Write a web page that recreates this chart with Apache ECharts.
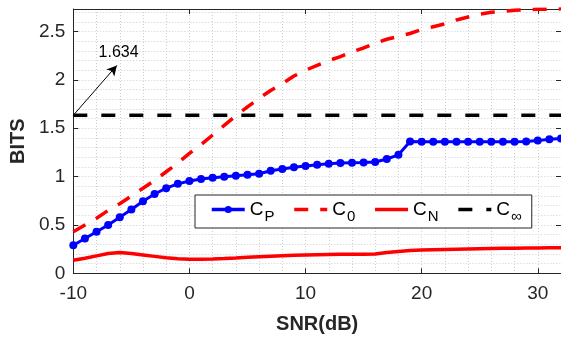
<!DOCTYPE html>
<html><head><meta charset="utf-8">
<script src="https://cdn.jsdelivr.net/npm/echarts@6/dist/echarts.min.js"></script>
<style>html,body{margin:0;padding:0;background:#fff}#c{width:561px;height:341px}</style>
</head><body><div id="c"></div>
<script>
const snr = [-10,-9,-8,-7,-6,-5,-4,-3,-2,-1,0,1,2,3,4,5,6,7,8,9,10,11,12,13,14,15,16,17,18,19,20,21,22,23,24,25,26,27,28,29,30,31,32];
const cP = [0.29,0.36,0.43,0.50,0.58,0.66,0.745,0.82,0.88,0.925,0.955,0.975,0.989,0.999,1.009,1.020,1.030,1.061,1.079,1.096,1.110,1.123,1.133,1.141,1.144,1.146,1.151,1.182,1.225,1.362,1.360,1.360,1.360,1.360,1.360,1.360,1.360,1.360,1.360,1.362,1.372,1.385,1.395];
const c0 = [0.43,0.50,0.57,0.65,0.72,0.80,0.88,0.96,1.05,1.14,1.24,1.33,1.43,1.53,1.63,1.72,1.81,1.89,1.96,2.04,2.10,2.15,2.20,2.24,2.29,2.33,2.38,2.42,2.45,2.48,2.52,2.55,2.58,2.62,2.65,2.68,2.70,2.71,2.72,2.725,2.73,2.73,2.735];
const cN = [0.135,0.155,0.18,0.205,0.215,0.205,0.19,0.175,0.16,0.15,0.145,0.145,0.148,0.152,0.158,0.165,0.172,0.177,0.182,0.186,0.19,0.193,0.195,0.196,0.197,0.198,0.20,0.215,0.225,0.235,0.24,0.243,0.246,0.249,0.252,0.254,0.256,0.258,0.26,0.261,0.262,0.264,0.265];
const cInfValue = 1.634;
const cInfX = [-10, 32];
const xTicks = [-10, 0, 10, 20, 30];
const yTicks = [0, 0.5, 1, 1.5, 2, 2.5];
const seriesNames = ['CP', 'C0', 'CN', 'Cinf'];
const seriesLabels = {CP: 'C{s|P}', C0: 'C{s|0}', CN: 'C{s|N}', Cinf: 'C{s|∞}'};
const annotText = '1.634';
const annotArrowEnd = [-6.25, 2.15];
const annotTextPos = [-6.1, 2.28];

const pair = (xs, ys) => xs.map((x, i) => [x, ys[i]]);
const axisColor = '#262626';
const gridLine = {show: true, lineStyle: {color: '#cfcfcf', type: [1, 2], width: 1}};
const font = 'Liberation Sans, Arial, sans-serif';
const noMarker = {color: 'rgba(0,0,0,0)', borderWidth: 0, opacity: 0};

const chart = echarts.init(document.getElementById('c'), null, {renderer: 'canvas'});
chart.setOption({
  animation: false,
  backgroundColor: '#fff',
  grid: {left: 69.3, top: 9, right: -1.8, bottom: 67.7, containLabel: false},
  xAxis: [{
    type: 'value', min: xTicks[0], max: 32, interval: 10,
    axisLine: {show: true, onZero: false, lineStyle: {color: axisColor, width: 1}},
    axisTick: {show: true, inside: true, length: 5, lineStyle: {color: axisColor}},
    axisLabel: {showMaxLabel: false, color: axisColor, fontSize: 19, fontFamily: font, margin: 11},
    splitLine: gridLine,
    minorTick: {show: false, splitNumber: 5},
    minorSplitLine: gridLine,
    name: 'SNR(dB)', nameLocation: 'middle', nameGap: 41,
    nameTextStyle: {fontSize: 20, fontWeight: 'bold', color: axisColor, fontFamily: font}
  }, {
    type: 'value', position: 'top', min: xTicks[0], max: 32, interval: 10,
    axisLine: {show: true, onZero: false, lineStyle: {color: axisColor, width: 1}},
    axisTick: {show: true, inside: true, length: 5, lineStyle: {color: axisColor}},
    axisLabel: {show: false}, splitLine: {show: false}
  }],
  yAxis: [{
    type: 'value', min: yTicks[0], max: 2.733, interval: 0.5,
    axisLine: {show: true, onZero: false, lineStyle: {color: axisColor, width: 1}},
    axisTick: {show: true, inside: true, length: 5, lineStyle: {color: axisColor}},
    axisLabel: {showMaxLabel: false, color: axisColor, fontSize: 19, fontFamily: font, margin: 8},
    splitLine: gridLine,
    minorTick: {show: false, splitNumber: 5},
    minorSplitLine: gridLine,
    name: 'BITS', nameLocation: 'middle', nameGap: 42, nameRotate: 90,
    nameTextStyle: {fontSize: 20, fontWeight: 'bold', color: axisColor, fontFamily: font}
  }, {
    type: 'value', position: 'right', min: yTicks[0], max: 2.733, interval: 0.5,
    axisLine: {show: true, onZero: false, lineStyle: {color: axisColor, width: 1}},
    axisTick: {show: true, inside: true, length: 5, lineStyle: {color: axisColor}},
    axisLabel: {show: false}, splitLine: {show: false}
  }],
  legend: {
    left: 195, top: 195, orient: 'horizontal',
    data: [
      {name: 'CP'},
      {name: 'C0', itemStyle: noMarker},
      {name: 'CN', itemStyle: noMarker},
      {name: 'Cinf', itemStyle: noMarker}
    ],
    itemWidth: 33, itemHeight: 9, itemGap: 18,
    padding: [5, 10, 4, 15],
    borderColor: axisColor, borderWidth: 1, backgroundColor: '#fff',
    lineStyle: {width: 3.5},
    formatter: n => seriesLabels[n],
    textStyle: {
      fontSize: 19, color: '#000', fontFamily: font,
      rich: {s: {fontSize: 15, color: '#000', fontFamily: font, padding: [14, 0, 0, 1]}}
    }
  },
  series: [
    {name: 'CP', type: 'line', data: pair(snr, cP), symbol: 'circle', symbolSize: 8, showSymbol: true,
     itemStyle: {color: '#0000ff'}, lineStyle: {color: '#0000ff', width: 3}, z: 3},
    {name: 'C0', type: 'line', data: pair(snr, c0), symbol: 'none',
     itemStyle: {color: '#ff0000'}, lineStyle: {color: '#ff0000', width: 3.5, type: [14, 12]}, z: 2},
    {name: 'CN', type: 'line', data: pair(snr, cN), symbol: 'none',
     itemStyle: {color: '#ff0000'}, lineStyle: {color: '#ff0000', width: 3.5}, z: 2},
    {name: 'Cinf', type: 'line', data: pair(cInfX, cInfX.map(() => cInfValue)), symbol: 'none',
     itemStyle: {color: '#000'}, lineStyle: {color: '#000', width: 3.5, type: [14, 14]}, z: 2,
     markLine: {
       silent: true, symbol: ['none', 'arrow'], symbolSize: [8, 10],
       lineStyle: {color: '#000', width: 1, type: 'solid'}, label: {show: false},
       data: [[{coord: [cInfX[0], cInfValue]}, {coord: annotArrowEnd}]]
     },
     markPoint: {
       silent: true, symbolSize: 0,
       label: {show: true, position: 'inside', formatter: annotText, fontSize: 16, color: '#000', fontFamily: font},
       data: [{coord: annotTextPos}]
     }}
  ]
});
</script></body></html>
